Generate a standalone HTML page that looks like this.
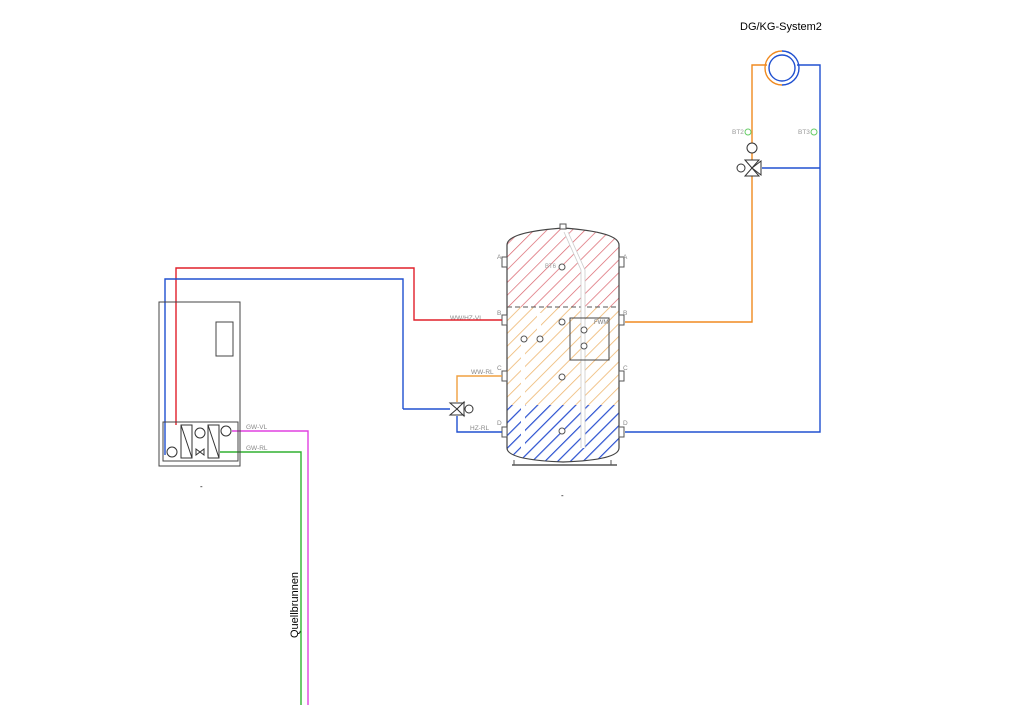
<!DOCTYPE html>
<html><head><style>body{margin:0;background:#fff}svg{display:block}text{font-family:"Liberation Sans",sans-serif}</style></head><body>
<svg width="1024" height="724" viewBox="0 0 1024 724" xmlns="http://www.w3.org/2000/svg">
<defs>
<pattern id="hr" width="9" height="9" patternUnits="userSpaceOnUse" patternTransform="rotate(45)"><line x1="0" y1="0" x2="0" y2="9" stroke="#d9606a" stroke-width="1.4"/></pattern>
<pattern id="ho" width="9" height="9" patternUnits="userSpaceOnUse" patternTransform="rotate(45)"><line x1="0" y1="0" x2="0" y2="9" stroke="#eeb670" stroke-width="1.6"/></pattern>
<pattern id="hb" width="9" height="9" patternUnits="userSpaceOnUse" patternTransform="rotate(45)"><line x1="0" y1="0" x2="0" y2="9" stroke="#2a50d0" stroke-width="2.4"/></pattern>
<clipPath id="tk"><path d="M507,245 Q507,232 563,228 Q619,232 619,245 L619,448 Q619,460 563,462 Q507,460 507,448 Z"/></clipPath>
</defs>
<g clip-path="url(#tk)">
<rect x="500" y="220" width="130" height="87" fill="url(#hr)"/>
<rect x="500" y="307" width="130" height="98" fill="url(#ho)"/>
<rect x="500" y="405" width="130" height="60" fill="url(#hb)"/>
</g>
<path d="M507,245 Q507,232 563,228 Q619,232 619,245 L619,448 Q619,460 563,462 Q507,460 507,448 Z" fill="none" stroke="#444" stroke-width="1.2"/>
<line x1="507" y1="307" x2="619" y2="307" stroke="#555" stroke-dasharray="5,3"/>
<rect x="560" y="224" width="6" height="5" fill="#fff" stroke="#555"/>
<line x1="512" y1="465" x2="617" y2="465" stroke="#555" stroke-width="1.5"/>
<line x1="514" y1="460" x2="514" y2="465" stroke="#555"/><line x1="611" y1="460" x2="611" y2="465" stroke="#555"/>
<g stroke="#fff" stroke-width="4" fill="none">
<path d="M566,232 L583,270 L583,448"/>
<line x1="539" y1="313" x2="539" y2="340"/>
<line x1="523" y1="340" x2="523" y2="450"/>
</g>
<g stroke="#ccc" stroke-width="0.8" fill="none">
<path d="M564,232 L581,270 L581,448 M568,232 L585,270 L585,448"/>
</g>
<g fill="#fff" stroke="#555">
<circle cx="562" cy="267" r="3"/><circle cx="562" cy="322" r="3"/><circle cx="524" cy="339" r="3"/><circle cx="540" cy="339" r="3"/>
<circle cx="584" cy="330" r="3"/><circle cx="584" cy="346" r="3"/><circle cx="562" cy="377" r="3"/><circle cx="562" cy="431" r="3"/>
</g>
<rect x="570" y="318" width="39" height="42" fill="none" stroke="#444"/>
<text x="594" y="324" font-size="6" fill="#777">FWM</text>
<text x="545" y="268" font-size="6" fill="#999">BT6</text>
<g fill="#fff" stroke="#555">
<rect x="502" y="257" width="5" height="10"/><rect x="502" y="315" width="5" height="10"/><rect x="502" y="371" width="5" height="10"/><rect x="502" y="427" width="5" height="10"/>
<rect x="619" y="257" width="5" height="10"/><rect x="619" y="315" width="5" height="10"/><rect x="619" y="371" width="5" height="10"/><rect x="619" y="427" width="5" height="10"/>
</g>
<g font-size="6.5" fill="#888">
<text x="497" y="259">A</text><text x="497" y="315">B</text><text x="497" y="370">C</text><text x="497" y="425">D</text>
<text x="623" y="259">A</text><text x="623" y="315">B</text><text x="623" y="370">C</text><text x="623" y="425">D</text>
<text x="450" y="320">WW/HZ-VL</text><text x="471" y="374">WW-RL</text><text x="470" y="430">HZ-RL</text>
<text x="246" y="429">GW-VL</text><text x="246" y="450">GW-RL</text>
<text x="732" y="134" fill="#999">BT2</text><text x="798" y="134" fill="#999">BT3</text>
</g>
<g fill="none" stroke-width="1.4">
<path d="M502,320 H414 V268 H176 V425" stroke="#e0202a"/>
<path d="M403,409 V279 H165 V455" stroke="#2050d0"/>
<path d="M403,409 H450" stroke="#2050d0"/>
<path d="M457,416 V432 H502" stroke="#2050d0"/>
<path d="M457,402 V376 H502" stroke="#f0a040"/>
<path d="M625,322 H752 V65 H767" stroke="#f08a20"/>
<path d="M625,432 H820 V65 H797" stroke="#2050d0"/>
<path d="M762,168 H820" stroke="#2050d0"/>
<path d="M232,431 H308 V705" stroke="#e040e0"/>
<path d="M220,452 H301 V705" stroke="#30b030"/>
</g>
<g fill="#fff" stroke="#333">
<path d="M450,403 L464,415 L450,415 L464,403 Z"/><path d="M457,409 L464,402 V416 Z"/>
<circle cx="469" cy="409" r="4"/>
<path d="M745,160 L759,176 L745,176 L759,160 Z"/><path d="M752,168 L761,161 V175 Z"/>
<circle cx="741" cy="168" r="4"/>
<circle cx="752" cy="148" r="5"/>
</g>
<circle cx="748" cy="132" r="3" fill="none" stroke="#6c6"/><circle cx="814" cy="132" r="3" fill="none" stroke="#6c6"/>
<path d="M782,51 A17,17 0 0 0 782,85" fill="none" stroke="#f08a20" stroke-width="1.4"/>
<path d="M782,51 A17,17 0 0 1 782,85" fill="none" stroke="#2050d0" stroke-width="1.4"/>
<circle cx="782" cy="68" r="13" fill="none" stroke="#2050d0" stroke-width="1.4"/>
<text x="740" y="30" font-size="11" fill="#000">DG/KG-System2</text>
<rect x="159" y="302" width="81" height="164" fill="none" stroke="#444"/>
<rect x="216" y="322" width="17" height="34" fill="none" stroke="#444"/>
<rect x="163" y="422" width="75" height="39" fill="none" stroke="#444"/>
<g fill="none" stroke="#333">
<rect x="181" y="425" width="11" height="33"/><line x1="181" y1="425" x2="192" y2="458"/>
<rect x="208" y="425" width="11" height="33"/><line x1="208" y1="425" x2="219" y2="458"/>
<circle cx="200" cy="433" r="5"/><circle cx="226" cy="431" r="5"/><circle cx="172" cy="452" r="5"/>
<path d="M196,449 L204,455 L204,449 L196,455 Z"/>
</g>
<text x="200" y="489" font-size="8">-</text>
<text x="561" y="498" font-size="8">-</text>
<text transform="translate(298,638) rotate(-90)" font-size="11">Quellbrunnen</text>
</svg>
</body></html>
